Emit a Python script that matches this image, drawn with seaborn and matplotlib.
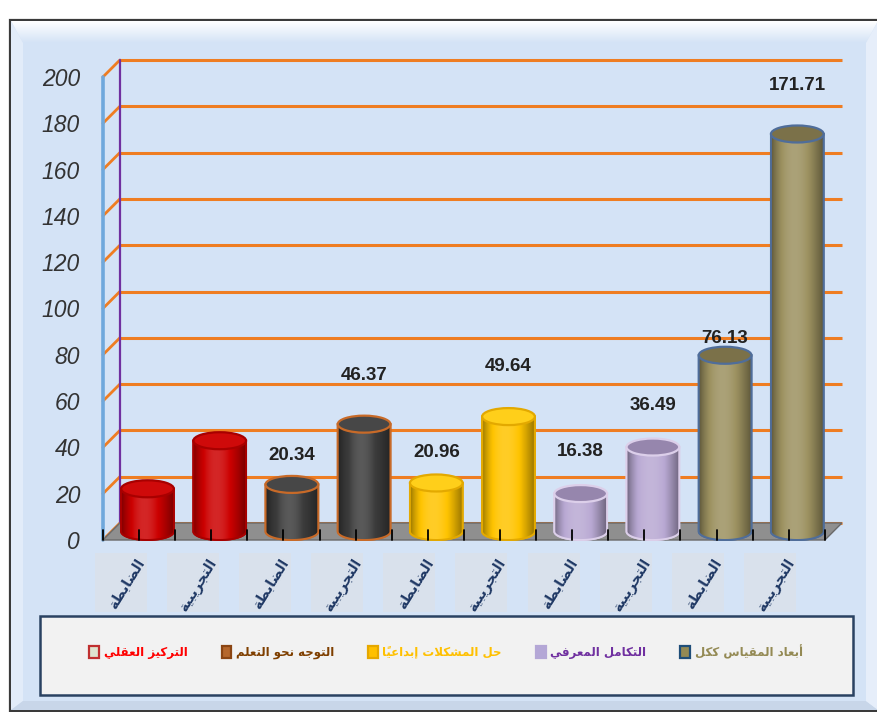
import unicodedata
import numpy as np
import pandas as pd
import matplotlib
matplotlib.use("Agg")
import matplotlib.pyplot as plt
import matplotlib.colors as mcolors
import seaborn as sns
from matplotlib.patches import Rectangle, Polygon, Ellipse, PathPatch, Patch
from matplotlib.path import Path
from matplotlib.transforms import ScaledTranslation

# ---------------- data ----------------
groups = ["الضابطة", "التجريبية"] * 5
dimensions = ["التركيز العقلي", "التوجه نحو التعلم", "حل المشكلات إبداعياً",
              "التكامل المعرفي", "أبعاد المقياس ككل"]
bar_dimension = [d for d in dimensions for _ in range(2)]
values = [18.45, 39.21, 20.34, 46.37, 20.96, 49.64, 16.38, 36.49, 76.13, 171.71]
show_value = [False, False, True, True, True, True, True, True, True, True]
yticks = [0, 20, 40, 60, 80, 100, 120, 140, 160, 180, 200]

# ---------------- styles ----------------
body_colors = ["#cc0000", "#3c3c3c", "#ffc400", "#b9a9d3", "#9c9160"]
edge_colors = ["#a80000", "#c86a28", "#e3a900", "#dccfea", "#4f6d9a"]
top_colors = ["#cf0a0a", "#474747", "#ffcf1a", "#9686ad", "#7b7149"]
legend_face = ["#dfe3cf", "#b5672c", "#ffc000", "#b4a7d6", "#948a54"]
legend_edge = ["#c03030", "#8b4513", "#e6a800", "#b4a7d6", "#1f4e79"]
legend_text = ["#ff0000", "#7f3f00", "#ffc000", "#7030a0", "#948a54"]
label_offsets_px = [0, 0, 29, 49, 30, 50, 42, 42, 17, 48]

W, H, DPI = 878, 712, 100


# ---------------- Arabic shaping (visual order + contextual forms) -------------
ALEFS = {"ا", "أ", "إ", "آ"}


def _form(ch, kind):
    try:
        return unicodedata.lookup(f"{unicodedata.name(ch)} {kind} FORM")
    except (KeyError, ValueError):
        return None


def _joins_next(ch):
    return _form(ch, "INITIAL") is not None


def _joins_prev(ch):
    return _form(ch, "FINAL") is not None


def shape_ar(text):
    all_clusters = []
    for k, word in enumerate(text.split(" ")):
        clusters = []
        for ch in word:
            if unicodedata.category(ch) == "Mn" and clusters:
                clusters[-1][1] += ch
            else:
                clusters.append([ch, ""])
        bases = [c[0] for c in clusters]
        n = len(clusters)
        res = []
        i = 0
        while i < n:
            b, m = clusters[i]
            prev = bases[i - 1] if i > 0 else None
            jp = prev is not None and _joins_next(prev) and _joins_prev(b)
            if b == "ل" and i + 1 < n and bases[i + 1] in ALEFS:
                kind = "FINAL" if jp else "ISOLATED"
                aname = unicodedata.name(bases[i + 1]).replace("ARABIC LETTER ", "")
                lig = unicodedata.lookup(f"ARABIC LIGATURE LAM WITH {aname} {kind} FORM")
                res.append(lig + m + clusters[i + 1][1])
                i += 2
                continue
            nxt = bases[i + 1] if i + 1 < n else None
            jn = nxt is not None and _joins_next(b) and _joins_prev(nxt)
            kind = ("MEDIAL" if (jp and jn) else "FINAL" if jp
                    else "INITIAL" if jn else "ISOLATED")
            res.append((_form(b, kind) or b) + m)
            i += 1
        if k:
            all_clusters.append(" ")
        all_clusters.extend(res)
    return "".join(reversed(all_clusters))


def cyl_gradient(hex_color, n=96):
    base = np.array(mcolors.to_rgb(hex_color))
    t = np.linspace(0, 1, n)
    s = np.sin(np.pi * t ** 0.85)
    light = -0.40 + 0.55 * s
    lc = light[:, None]
    rgb = np.where(lc < 0, base * (1 + lc), base + (1 - base) * lc)
    return np.clip(rgb, 0, 1)


# ---------------- figure ----------------
sns.set_theme(style="white")
plt.rcParams["font.family"] = ["DejaVu Sans"]

fig = plt.figure(figsize=(W / DPI, H / DPI), dpi=DPI)
fig.patch.set_facecolor("white")

# background / frame (pixel coordinates)
bg = fig.add_axes([0, 0, 1, 1], zorder=-10)
bg.set_xlim(0, W)
bg.set_ylim(H, 0)
bg.axis("off")
bg.add_patch(Rectangle((10, 20), W - 8, H - 21, facecolor="#d4e3f6",
                       edgecolor="#3a3a3a", lw=1.6))
# bevels
topgrad = np.linspace(0, 1, 40)[:, None, None] * (np.array(mcolors.to_rgb("#d4e3f6")) - 1) + 1
im = bg.imshow(np.repeat(topgrad, 2, axis=1), extent=[11, W, 43, 21], aspect="auto", zorder=1)
tp = Polygon([(11, 21), (W, 21), (W - 12, 43), (23, 43)], closed=True,
             facecolor="none", edgecolor="none")
bg.add_patch(tp)
im.set_clip_path(tp)
bg.add_patch(Polygon([(11, 21), (23, 43), (23, 701), (11, 710)], closed=True,
                     facecolor="#e2ecf9", edgecolor="none", zorder=1))
bg.add_patch(Polygon([(11, 710), (23, 701), (W - 12, 701), (W, 710)], closed=True,
                     facecolor="#c8d6e9", edgecolor="none", zorder=1))
bg.add_patch(Polygon([(W, 21), (W - 12, 43), (W - 12, 701), (W, 710)], closed=True,
                     facecolor="#e6eefa", edgecolor="none", zorder=1))
# legend box
bg.add_patch(Rectangle((40, 616), 813, 79, facecolor="#f2f2f2",
                       edgecolor="#2a4262", lw=1.8, zorder=2))

# main axes: mid-depth plane. 0 -> y=531.5px, 2.315 px/unit ; slot 72.2 px
PX_X, PX_Y = 72.2, 2.315
x0_px = 111.4 - 0.25 * PX_X
x1_px = 111.4 + 10.25 * PX_X
ytop_px = 531.5 - 205 * PX_Y
ybot_px = 531.5 + 20 * PX_Y
ax = fig.add_axes([x0_px / W, 1 - ybot_px / H, (x1_px - x0_px) / W, (ybot_px - ytop_px) / H])
ax.patch.set_visible(False)
for s in ax.spines.values():
    s.set_visible(False)

dx3 = 8.5 / PX_X
dy3 = 8.5 / PX_Y

df = pd.DataFrame({"pos": np.arange(len(values)), "value": values,
                   "dimension": bar_dimension})
palette = dict(zip(dimensions, body_colors))
sns.barplot(data=df, x="pos", y="value", hue="dimension", palette=palette,
            hue_order=dimensions, dodge=False, width=0.73, saturation=1,
            legend=False, ax=ax, zorder=3, linewidth=0)

# floor
ax.add_patch(Polygon([(-0.5 + dx3, dy3), (9.5 + dx3, dy3), (9.5 - dx3, -dy3),
                      (-0.5 - dx3, -dy3)], closed=True, facecolor="#8f8f8f",
                     edgecolor="#6a6a6a", lw=1, zorder=1))
# wall gridlines + perspective diagonals
orange = "#ef7d22"
for y in yticks:
    ax.plot([-0.5 + dx3, 9.5 + dx3], [y + dy3, y + dy3], color=orange, lw=2.2,
            zorder=0.8, solid_capstyle="butt")
    ax.plot([-0.5 - dx3, -0.5 + dx3], [y - dy3, y + dy3], color=orange, lw=2.0,
            zorder=0.8)
ax.plot([-0.5 + dx3, -0.5 + dx3], [dy3, 200 + dy3], color="#7030a0", lw=1.6, zorder=0.9)
ax.plot([-0.5 - dx3, -0.5 - dx3], [-dy3, 200 - dy3], color="#6fa8dc", lw=2.6, zorder=0.9)

# cylinders
eh = 17 / PX_Y
bars = sorted([p for p in ax.patches if isinstance(p, Rectangle) and p.get_width() < 1],
              key=lambda p: p.get_x())
for i, p in enumerate(bars):
    d = i // 2
    bx, bw, bh = p.get_x(), p.get_width(), p.get_height()
    cx = bx + bw / 2
    t = np.linspace(np.pi, 2 * np.pi, 40)
    verts = [(bx, bh), (bx, 0)] + [(cx + bw / 2 * np.cos(a), eh / 2 * np.sin(a)) for a in t] \
        + [(bx + bw, bh), (bx, bh)]
    codes = [Path.MOVETO] + [Path.LINETO] * (len(verts) - 2) + [Path.CLOSEPOLY]
    body = PathPatch(Path(verts, codes), facecolor=body_colors[d],
                     edgecolor=edge_colors[d], lw=1.4, zorder=3.2)
    ax.add_patch(body)
    grad = cyl_gradient(body_colors[d])[None, :, :]
    gim = ax.imshow(grad, extent=[bx, bx + bw, -eh / 2, bh], aspect="auto",
                    zorder=3.3, interpolation="bilinear")
    gim.set_clip_path(body)
    ax.add_patch(PathPatch(Path(verts, codes), facecolor="none",
                           edgecolor=edge_colors[d], lw=1.4, zorder=3.4))
    ax.add_patch(Ellipse((cx, bh), bw, eh, facecolor=top_colors[d],
                         edgecolor=edge_colors[d], lw=1.6, zorder=3.5))
    if show_value[i]:
        ax.annotate(f"{values[i]:.2f}", xy=(cx, bh), xytext=(0, label_offsets_px[i]),
                    textcoords="offset pixels", ha="center", va="center",
                    fontsize=13.5, fontweight="bold", color="#222222",
                    family="Liberation Sans", zorder=7)

# floor front ticks
for k in range(21):
    xt = -0.5 + 0.5 * k - dx3
    ax.plot([xt, xt], [-dy3, -dy3 + 4.4], color="black", lw=1.3, zorder=6)

# x category labels with boxes
for i, g in enumerate(groups):
    ax.add_patch(Rectangle((i - 53 / PX_X, (531.5 - 612) / PX_Y), 52 / PX_X,
                           59 / PX_Y, facecolor="#d9e1ec", edgecolor="none",
                           zorder=1, clip_on=False))
    ax.text(i - 6 / PX_X, (531.5 - 560) / PX_Y, shape_ar(g), rotation=58,
            rotation_mode="anchor", ha="right", va="center", fontsize=10,
            fontweight="bold", color="#1f3864", zorder=5, clip_on=False)

ax.set_xticks([])
ax.set_yticks(yticks)
ax.set_yticklabels([str(v) for v in yticks])
ax.tick_params(axis="y", length=0, pad=9.5)
for lbl in ax.get_yticklabels():
    lbl.set_fontfamily("Liberation Sans")
    lbl.set_fontstyle("italic")
    lbl.set_fontsize(16.5)
    lbl.set_color("#333333")
    lbl.set_transform(lbl.get_transform() + ScaledTranslation(0, -8.5 / DPI, fig.dpi_scale_trans))
ax.set_xlabel("")
ax.set_ylabel("")
ax.set_xlim(-0.75, 9.75)
ax.set_ylim(-20, 205)

# legend
handles = [Patch(facecolor=legend_face[j], edgecolor=legend_edge[j], lw=1.6)
           for j in range(len(dimensions))]
leg = fig.legend(handles, [shape_ar(d) for d in dimensions], loc="center",
                 bbox_to_anchor=(446 / W, 1 - 652 / H), ncol=5, frameon=False,
                 prop={"family": "DejaVu Sans", "weight": "bold", "size": 8.5},
                 handlelength=0.8, handleheight=1.1, handletextpad=0.4,
                 columnspacing=2.9)
for txt, c in zip(leg.get_texts(), legend_text):
    txt.set_color(c)

fig.savefig("out.png", dpi=DPI)
